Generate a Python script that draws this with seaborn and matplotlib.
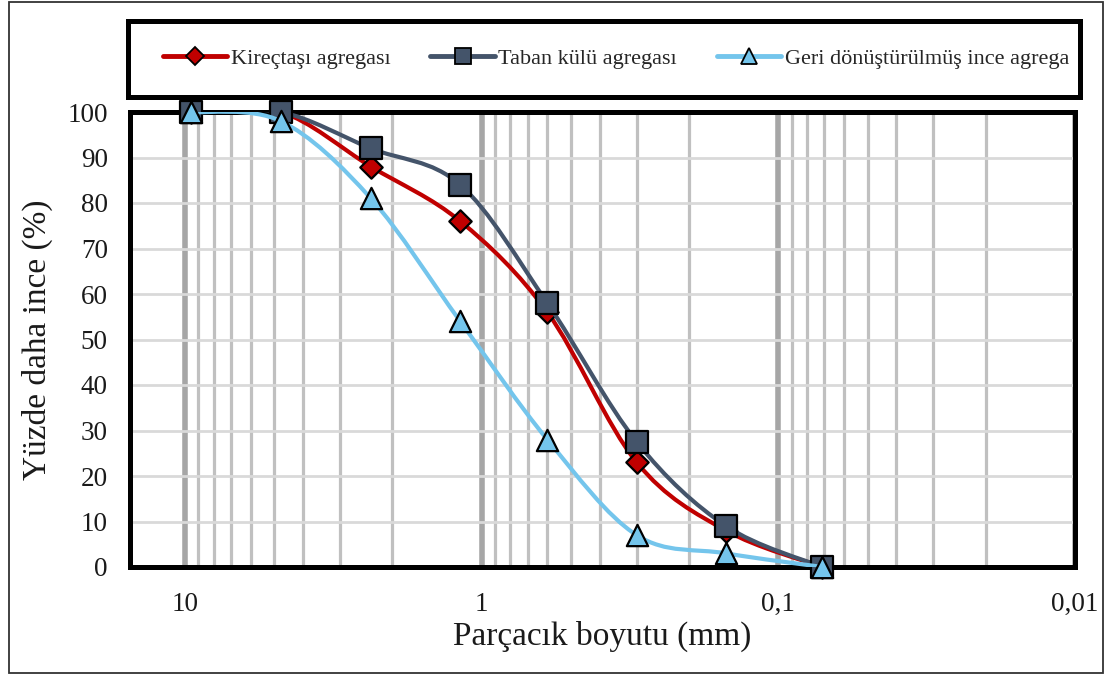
import numpy as np
import matplotlib
matplotlib.use("Agg")
import matplotlib.pyplot as plt
from matplotlib.path import Path
from matplotlib.patches import PathPatch, Rectangle
from matplotlib.lines import Line2D
from matplotlib.ticker import FixedLocator, LogLocator, NullFormatter
import seaborn as sns

# Sieve sizes (mm) and percent passing for each aggregate
sieve_mm = [9.5, 4.75, 2.36, 1.18, 0.6, 0.3, 0.15, 0.071]
kirectasi = [100, 100, 88, 76, 56, 23, 8, 0]
taban_kulu = [100, 100, 92, 84, 58, 27.5, 9, 0]
geri_donusum = [100, 98, 81, 54, 28, 7, 3, 0]

series_names = ["Kireçtaşı agregası", "Taban külü agregası", "Geri dönüştürülmüş ince agrega"]
x_ticks = [10, 1, 0.1, 0.01]
x_tick_labels = ["10", "1", "0,1", "0,01"]
y_ticks = list(range(0, 101, 10))

sns.set_theme(style="white")
plt.rcParams["font.family"] = ["Liberation Serif", "DejaVu Serif"]

fig = plt.figure(figsize=(11.07, 6.75), dpi=100)
ax = fig.add_axes([130 / 1107, 108 / 675, 945 / 1107, 455 / 675])

ax.set_xscale("log")
ax.set_xlim(15.3, 0.01)
ax.set_ylim(0, 100)


def smooth_path(xs, ys):
    """Cubic Bezier path through the points (Catmull-Rom style, in log-x space)."""
    lx = np.log10(xs)
    y = np.asarray(ys, dtype=float)
    n = len(lx)
    verts = [(xs[0], y[0])]
    codes = [Path.MOVETO]
    for i in range(n - 1):
        i0 = max(i - 1, 0)
        i3 = min(i + 2, n - 1)
        c1x = lx[i] + (lx[i + 1] - lx[i0]) / 6
        c1y = y[i] + (y[i + 1] - y[i0]) / 6
        c2x = lx[i + 1] - (lx[i3] - lx[i]) / 6
        c2y = y[i + 1] - (y[i3] - y[i]) / 6
        verts += [(10 ** c1x, c1y), (10 ** c2x, c2y), (xs[i + 1], y[i + 1])]
        codes += [Path.CURVE4] * 3
    return Path(verts, codes)


styles = [
    dict(color="#C00000", marker="D", s=130, face="#C00000"),
    dict(color="#44546A", marker="s", s=255, face="#44546A"),
    dict(color="#74C5EC", marker="^", s=235, face="#74C5EC"),
]
all_series = [kirectasi, taban_kulu, geri_donusum]

for k, (vals, st) in enumerate(zip(all_series, styles)):
    z = 3 + 2 * k
    patch = PathPatch(smooth_path(sieve_mm, vals), facecolor="none",
                      edgecolor=st["color"], lw=3.0, zorder=z, capstyle="round")
    ax.add_patch(patch)
    sns.scatterplot(x=sieve_mm, y=vals, marker=st["marker"], s=st["s"],
                    color=st["face"], edgecolor="black", linewidth=1.6,
                    ax=ax, zorder=z + 1, clip_on=False, legend=False)

# Grid: thick major decades, thinner minor lines, light horizontal lines
ax.xaxis.set_major_locator(FixedLocator(x_ticks))
ax.xaxis.set_minor_locator(LogLocator(base=10, subs=np.arange(2, 10)))
ax.xaxis.set_minor_formatter(NullFormatter())
ax.set_xticklabels(x_tick_labels)
ax.set_yticks(y_ticks)
ax.grid(which="major", axis="x", color="#A6A6A6", lw=4.0, zorder=0)
ax.grid(which="minor", axis="x", color="#C0C0C0", lw=2.3, zorder=0)
ax.grid(which="major", axis="y", color="#D9D9D9", lw=2.0, zorder=0)
ax.set_axisbelow(True)

ax.tick_params(axis="both", which="both", length=0, labelsize=19.5, colors="#1a1a1a")
ax.tick_params(axis="x", pad=18)
ax.tick_params(axis="y", pad=16)

for sp in ax.spines.values():
    sp.set_visible(True)
    sp.set_color("black")
    sp.set_linewidth(3.6)
    sp.set_zorder(2.5)

ax.set_xlabel("Parçacık boyutu (mm)", fontsize=24, labelpad=3, color="#1a1a1a")
ax.set_ylabel("Yüzde daha ince (%)", fontsize=24, labelpad=10, color="#1a1a1a")

# Legend in its own framed box above the plot
box = Rectangle((128 / 1107, (675 - 97) / 675), 952 / 1107, 76 / 675,
                transform=fig.transFigure, fill=False, edgecolor="black", lw=3.6)
fig.add_artist(box)
handles = [
    Line2D([], [], color=st["color"], lw=3.5, marker=st["marker"],
           markersize={"D": 9, "s": 12, "^": 11}[st["marker"]],
           markerfacecolor=st["face"], markeredgecolor="black", markeredgewidth=1.3)
    for st in styles
]
fig.legend(handles, series_names, loc="center",
           bbox_to_anchor=(616 / 1107, (675 - 59) / 675),
           ncol=3, frameon=False, fontsize=16, handlelength=2.9,
           handletextpad=0.15, columnspacing=1.8)

# Outer figure border
fig.add_artist(Rectangle((9 / 1107, 2 / 675), 1094 / 1107, 671 / 675,
                         transform=fig.transFigure, fill=False,
                         edgecolor="#333333", lw=1.3))

fig.savefig("out.png", dpi=100, facecolor="white")
